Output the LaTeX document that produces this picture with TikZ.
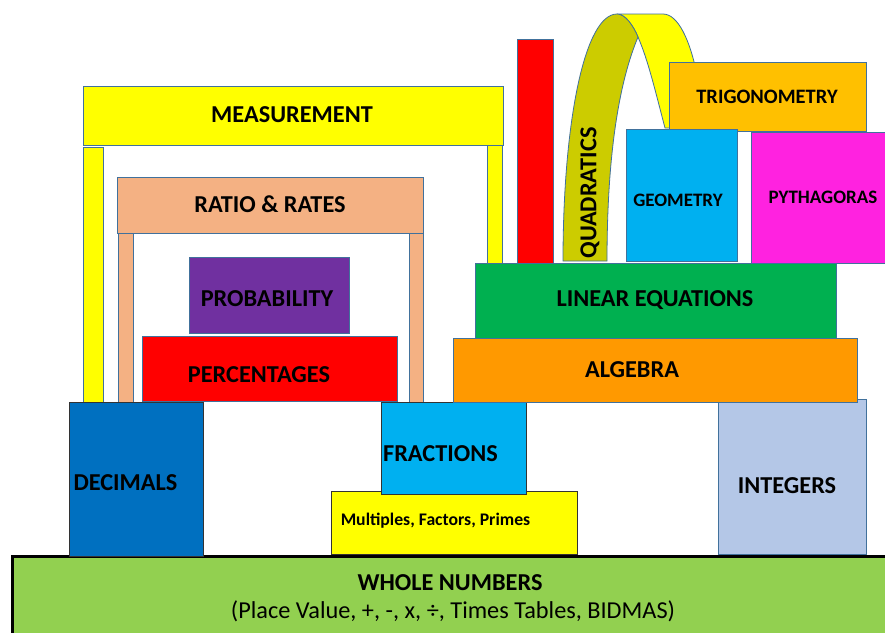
\documentclass[tikz,border=0pt]{standalone}
\usepackage{fontspec}
\setmainfont{Carlito}
\definecolor{edge}{HTML}{41719C}
\definecolor{cYellow}{HTML}{FFFF00}
\definecolor{cRatio}{HTML}{F4B183}
\definecolor{cProb}{HTML}{7030A0}
\definecolor{cRed}{HTML}{FF0000}
\definecolor{cOrange}{HTML}{FF9900}
\definecolor{cGreen}{HTML}{00B050}
\definecolor{cSky}{HTML}{00B0F0}
\definecolor{cDec}{HTML}{0070C0}
\definecolor{cInt}{HTML}{B4C7E7}
\definecolor{cWhole}{HTML}{92D050}
\definecolor{cTrig}{HTML}{FFC000}
\definecolor{cPyth}{HTML}{FF22E0}
\definecolor{cOlive}{HTML}{CCCC00}
\tikzset{
  blk/.style={draw=edge, line width=0.8pt},
  darkblk/.style={draw=black!80, line width=0.9pt},
  lbl/.style={inner sep=0pt, font=\fontsize{24.3}{26}\selectfont\bfseries, text=black},
  lblsmall/.style={inner sep=0pt, font=\fontsize{19}{21}\selectfont\bfseries, text=black},
}
\begin{document}
\begin{tikzpicture}[x=1pt,y=-1pt]
\useasboundingbox (0,0) rectangle (885,632);
\clip (0,0) rectangle (885,632);
\fill[white] (0,0) rectangle (885,632);

% whole numbers base
\draw[fill=cWhole, draw=black, line width=3pt] (12,556) rectangle (892,645);
\node[lbl, font=\fontsize{24.3}{26}\selectfont\bfseries] (whole) at (450,583) {WHOLE NUMBERS};
\node[lbl, font=\fontsize{24.3}{26}\selectfont] (wholesub) at (453,611) {(Place Value, +, -, x, ÷, Times Tables, BIDMAS)};

% measurement arch
\draw[blk, fill=cYellow] (83,147) rectangle (103,402);
\draw[blk, fill=cYellow] (487,145) rectangle (502,263);
\draw[blk, fill=cYellow] (83,86) rectangle (503,145);
\node[lbl] (meas) at (292,115) {MEASUREMENT};

% ratio arch
\draw[blk, fill=cRatio] (118,231) rectangle (133,403);
\draw[blk, fill=cRatio] (409,232) rectangle (423,402);
\draw[blk, fill=cRatio] (117,177) rectangle (423,233);
\node[lbl] (ratio) at (270,204) {RATIO \& RATES};

% probability and percentages
\draw[blk, fill=cProb] (189,257) rectangle (349,333);
\node[lbl] (prob) at (267,299) {PROBABILITY};
\draw[blk, fill=cRed] (142,336) rectangle (397,401);
\node[lbl] (perc) at (259,375) {PERCENTAGES};

% decimals, multiples, fractions, integers
\draw[darkblk, fill=cDec] (69,402) rectangle (203,556);
\node[lbl] (dec) at (125.5,483) {DECIMALS};
\draw[darkblk, fill=cYellow] (331,491) rectangle (577,554);
\node[lbl, font=\fontsize{17.7}{19}\selectfont\bfseries] (mult) at (435.5,521) {Multiples, Factors, Primes};
\draw[darkblk, fill=cSky] (381,402) rectangle (526,494);
\node[lbl] (frac) at (440.5,454) {FRACTIONS};
\draw[blk, fill=cInt] (718,399) rectangle (866,554);
\node[lbl] (int) at (787,486) {INTEGERS};

% algebra and linear equations
\draw[blk, fill=cOrange] (453,338) rectangle (857,402);
\node[lbl] (alg) at (632,370) {ALGEBRA};
\draw[blk, fill=cGreen] (475,263) rectangle (836,338);
\node[lbl] (lin) at (655,300) {LINEAR EQUATIONS};

% red bar
\draw[blk, fill=cRed] (517,39) rectangle (553,263);

% quadratics ribbon arch
\draw[blk, fill=cYellow] (617,14) -- (663,14)
  .. controls (678,14) and (690,40) .. (697,75) -- (702,128) -- (665,128)
  .. controls (655,90) and (648,60) .. (638,37)
  .. controls (633,25) and (625,14) .. (617,14) -- cycle;
\draw[blk, fill=cOlive] (563,261)
  .. controls (563,120) and (585,14) .. (617,14)
  .. controls (625,14) and (633,25) .. (638,37)
  .. controls (620,80) and (607,150) .. (607,261) -- cycle;
\node[lbl, rotate=90] (quad) at (590,193) {QUADRATICS};

% trig, geometry, pythagoras
\draw[blk, fill=cTrig] (669,62) rectangle (866,131);
\node[lbl, font=\fontsize{20.5}{22}\selectfont\bfseries] (trig) at (767,97) {TRIGONOMETRY};
\draw[blk, fill=cSky] (626,129) rectangle (737,261);
\node[lblsmall] (geo) at (678,200) {GEOMETRY};
\draw[blk, fill=cPyth] (751,132) rectangle (892,263);
\node[lblsmall] (pyth) at (823,197) {PYTHAGORAS};
\end{tikzpicture}
\end{document}
